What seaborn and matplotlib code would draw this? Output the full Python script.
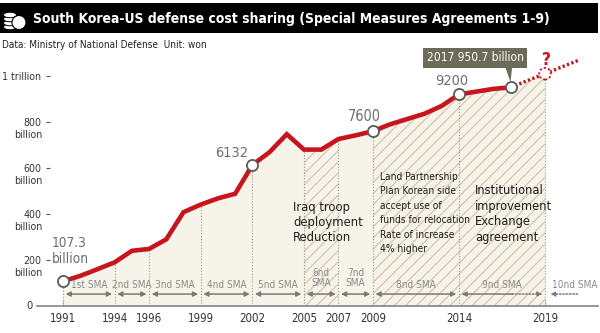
import numpy as np
import matplotlib
matplotlib.use("Agg")
import matplotlib.pyplot as plt
import matplotlib.transforms as mtransforms
from matplotlib import font_manager as fm
from matplotlib.patches import Rectangle, Ellipse, Circle
import seaborn as sns

# --- data (billion won) -------------------------------------------------
years = [1991, 1992, 1993, 1994, 1995, 1996, 1997, 1998, 1999, 2000, 2001,
         2002, 2003, 2004, 2005, 2006, 2007, 2008, 2009, 2010, 2011, 2012,
         2013, 2014, 2015, 2016, 2017]
values = [107.3, 131, 160, 190, 240, 248, 290, 408, 441, 468, 488,
          613.2, 669, 747, 680, 680, 726, 742, 760.0, 790, 813, 836,
          870, 920.0, 932, 944, 950.7]

# projected path after the 9th agreement
proj_years = [2017, 2019, 2021]
proj_values = [950.7, 1010, 1070]

# highlighted years
marked_years = [1991, 2002, 2009, 2014, 2017]

# agreement periods
sma_bounds = [1991, 1994, 1996, 1999, 2002, 2005, 2007, 2009, 2014, 2019]
sma_labels = ["1st SMA", "2nd SMA", "3nd SMA", "4nd SMA", "5nd SMA",
              "6nd\nSMA", "7nd\nSMA", "8nd SMA", "9nd SMA"]
hatched_periods = [(2005, 2007), (2009, 2019)]

ytick_values = [0, 200, 400, 600, 800, 1000]
ytick_labels = ["0", "200", "400", "600", "800", "1 trillion"]

title = "South Korea-US defense cost sharing (Special Measures Agreements 1-9)"
source = "Data: Ministry of National Defense  Unit: won"

RED = "#c8151d"
CREAM = "#f6f3e8"
HATCH = "#d5c3b1"
GRAY = "#7a7a7a"
LABEL_GRAY = "#6e6e6e"
TEXT = "#1e1e1e"

sns.set_theme(style="white")

# prefer a condensed face when one is installed
_faces = fm.fontManager.ttflist
_has_dejavu_cond = any(f.name == "DejaVu Sans" and "condensed" in str(f.stretch)
                       for f in _faces)
if _has_dejavu_cond:
    plt.rcParams["font.family"] = ["DejaVu Sans"]
    plt.rcParams["font.stretch"] = "condensed"
else:
    plt.rcParams["font.family"] = ["Roboto", "DejaVu Sans"]
plt.rcParams["hatch.linewidth"] = 0.85
plt.rcParams["hatch.color"] = HATCH

W, H = 600, 333
fig = plt.figure(figsize=(W / 100, H / 100), dpi=100)
fig.patch.set_facecolor("white")
renderer = fig.canvas.get_renderer()


def fit(t, width_px, pitch_px=None):
    """Scale a text's font so its block is width_px wide."""
    for _ in range(2):
        w = t.get_window_extent(renderer).width
        t.set_fontsize(t.get_fontsize() * width_px / w)
    if pitch_px is not None:
        t.set_linespacing(pitch_px / (t.get_fontsize() * 1.406))
    return t


# axes placed so that 1991 -> 63px, 2019 -> 545px, 0 -> 306px, 1000 -> 76px
ppy = (545 - 63) / 28.0
ppv = (306 - 76) / 1000.0
ax_left, ax_right, ax_bottom, ax_top = 37, 598, 306, 36
ax = fig.add_axes([ax_left / W, (H - ax_bottom) / H,
                   (ax_right - ax_left) / W, (ax_bottom - ax_top) / H])
ax.set_xlim(1991 - (63 - ax_left) / ppy, 1991 + (ax_right - 63) / ppy)
ax.set_ylim(0, (ax_bottom - ax_top) / ppv)
ax.set_facecolor("none")

# --- area under the curve ------------------------------------------------
x_all = np.array(years + proj_years[1:2], dtype=float)
y_all = np.array(values + proj_values[1:2], dtype=float)
ax.fill_between(x_all, 0, y_all, color=CREAM, lw=0, zorder=1)
for a, b in hatched_periods:
    m = (x_all >= a) & (x_all <= b)
    ax.fill_between(x_all[m], 0, y_all[m], facecolor="none",
                    edgecolor=HATCH, hatch="///", lw=0, zorder=1.5)

# dotted dividers at each agreement boundary
for b in sma_bounds:
    top = np.interp(b, x_all, y_all)
    ax.plot([b, b], [0, top], color="#9a9a9a", lw=0.8,
            linestyle=(0, (1, 1.6)), zorder=2)

# --- the cost line ------------------------------------------------------
sns.lineplot(x=years, y=values, ax=ax, color=RED, lw=3.3, zorder=4,
             solid_joinstyle="miter", solid_capstyle="butt")
ax.plot(proj_years, proj_values, color=RED, lw=2.4,
        linestyle=(0, (0.7, 0.7)), zorder=4)

mv = [values[years.index(y)] for y in marked_years]
ax.plot(marked_years, mv, "o", mfc="white", mec="#5a5a5a", mew=1.3, ms=8,
        zorder=5)
ax.scatter([proj_years[1]], [proj_values[1]], s=70, facecolor="white",
           edgecolor=RED, linewidth=1.3, linestyle=(0, (1.2, 1.2)), zorder=5)
ax.text(2019.09, 1070, "?", color=RED, fontsize=12.5, fontweight="bold",
        ha="center", va="center", zorder=6)

# value labels
v91 = values[years.index(1991)]
fit(ax.text(1990.35, 239, f"{v91:g}\nbillion", color=LABEL_GRAY, fontsize=11,
            ha="left", va="center", zorder=6), 37, 16)
for yr, dx, dy in [(2002, -1.18, 52), (2009, -0.49, 66), (2014, -0.4, 58)]:
    v = values[years.index(yr)]
    fit(ax.text(yr + dx, v + dy, f"{v * 10:.0f}", color=LABEL_GRAY,
                fontsize=11, ha="center", va="center", zorder=6), 33)

v17 = values[years.index(2017)]
box = ax.annotate(f"2017 {v17:g} billion", xy=(2017, v17 + 22),
                  xytext=(2014.96, 1080), ha="center", va="center",
                  color="white", fontsize=10,
                  bbox=dict(boxstyle="square,pad=0.3", fc="#6c6b58", ec="none"),
                  arrowprops=dict(arrowstyle="wedge,tail_width=0.55,shrink_factor=0.5",
                                  fc="#6c6b58", ec="none", relpos=(0.84, 0.0),
                                  shrinkA=0, shrinkB=0),
                  zorder=7)
fit(box, 97)

# period notes
fit(ax.text(2004.36, 363, "Iraq troop\ndeployment\nReduction", color=TEXT,
            fontsize=10, ha="left", va="center", zorder=6), 69, 15.5)
fit(ax.text(2009.42, 404,
            "Land Partnership\nPlan Korean side\naccept use of\n"
            "funds for relocation\nRate of increase\n4% higher",
            color=TEXT, fontsize=10, ha="left", va="center", zorder=6), 90, 16)
fit(ax.text(2014.93, 400, "Institutional\nimprovement\nExchange\nagreement",
            color=TEXT, fontsize=10, ha="left", va="center", zorder=6), 77, 16)

# --- agreement period arrows ---------------------------------------------
ARROW_Y = 52
LBL_Y = 91
LBL2_Y = 122
SMA_FS = 7.2
akw = dict(color=GRAY, lw=1.1, mutation_scale=7, shrinkA=0, shrinkB=0)
for i, lab in enumerate(sma_labels):
    a, b = sma_bounds[i], sma_bounds[i + 1]
    if b == 2019:
        ax.annotate("", xy=(a + 0.15, ARROW_Y), xytext=(2017.1, ARROW_Y),
                    arrowprops=dict(arrowstyle="-|>", **akw), zorder=6)
        ax.annotate("", xy=(b - 0.15, ARROW_Y), xytext=(2017.1, ARROW_Y),
                    arrowprops=dict(arrowstyle="-|>", linestyle=(0, (1, 1.2)),
                                    **akw), zorder=6)
    else:
        ax.annotate("", xy=(b - 0.15, ARROW_Y), xytext=(a + 0.15, ARROW_Y),
                    arrowprops=dict(arrowstyle="<|-|>", **akw), zorder=6)
    two_line = "\n" in lab
    ax.text((a + b) / 2, LBL2_Y if two_line else LBL_Y, lab, color="#8a8a8a",
            fontsize=SMA_FS, ha="center", va="center", linespacing=1.0,
            zorder=6)
ax.annotate("", xy=(2019.3, ARROW_Y), xytext=(2020.9, ARROW_Y),
            arrowprops=dict(arrowstyle="-|>", linestyle=(0, (1, 1.2)), **akw),
            zorder=6)
ax.text(2020.75, LBL_Y, "10nd SMA", color="#8a8a8a", fontsize=SMA_FS,
        ha="center", va="center", zorder=6)

# --- axes styling -------------------------------------------------------
for s in ["top", "right"]:
    ax.spines[s].set_visible(False)
ax.spines["bottom"].set_color("#8c8c8c")
ax.spines["bottom"].set_linewidth(1.3)
ax.spines["left"].set_color("none")
ax.spines["left"].set_position(("data", 1991 - (63 - 50) / ppy))

ax.set_xticks(sma_bounds)
ax.set_xticklabels([str(b) for b in sma_bounds])
ax.set_xticks(range(1991, 2020), minor=True)
ax.tick_params(axis="x", which="both", direction="in", length=4, width=0.8,
               color="#8c8c8c", bottom=True)
ax.tick_params(axis="x", which="major", labelsize=8.3, labelcolor="#333333",
               pad=4)

YFS = 7.6
ax.set_yticks(ytick_values)
ax.set_yticklabels([""] + ytick_labels[1:])
ax.tick_params(axis="y", which="major", direction="out", left=True, length=3.2,
               width=0.8, color="#555555", labelsize=YFS, labelcolor="#333333",
               pad=3)
ax.yaxis.get_major_ticks()[0].tick1line.set_visible(False)
ax.grid(False)

# "0" sits just left of where the baseline begins
ax.annotate(ytick_labels[0], xy=(ax.get_xlim()[0], 0), xytext=(-4, 0),
            textcoords="offset pixels", ha="right", va="center",
            fontsize=8, color="#333333", annotation_clip=False)
# unit under each billion-level tick
for v in ytick_values[1:-1]:
    ax.annotate("billion", xy=(1991 - (63 - 42) / ppy, v), xytext=(0, -13),
                textcoords="offset pixels", ha="right", va="center",
                fontsize=YFS, color="#333333", annotation_clip=False)

# --- header -------------------------------------------------------------
ident = mtransforms.IdentityTransform()


def px(x, y):
    return (x, H - y)


fig.patches.append(Rectangle(px(0, 33), 598, 30, transform=ident,
                             facecolor="black", edgecolor="none", zorder=0))
for cy in [27, 23, 19, 15]:
    fig.patches.append(Ellipse(px(10, cy), 13, 5.5, transform=ident,
                               facecolor="white", edgecolor="black", lw=0.7))
fig.patches.append(Circle(px(19, 22.5), 7, transform=ident, facecolor="white",
                          edgecolor="black", lw=0.8))
fit(fig.text(33 / W, 1 - 18.5 / H, title, color="white", fontsize=12,
             fontweight="bold", ha="left", va="center"), 513)
fit(fig.text(2 / W, 1 - 45 / H, source, color="#222222", fontsize=8,
             ha="left", va="center"), 206)

fig.savefig("out.png", dpi=100, facecolor="white")
